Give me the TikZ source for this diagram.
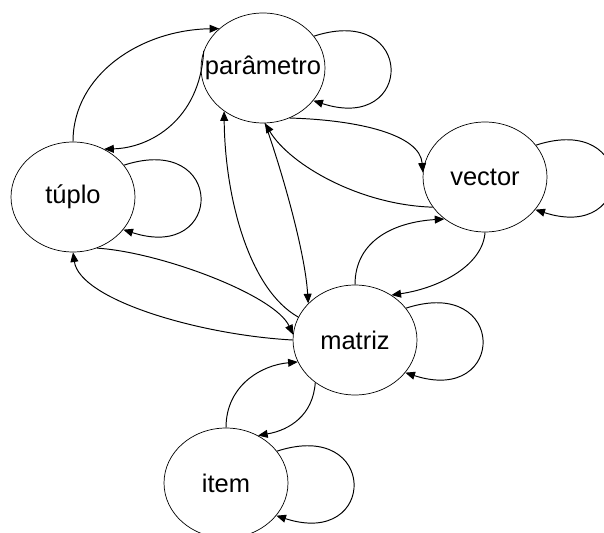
\documentclass[tikz,border=0pt]{standalone}
\usepackage{fontspec}
\setmainfont{Liberation Sans}
\usetikzlibrary{shapes.geometric,arrows.meta}

\begin{document}
\begin{tikzpicture}[x=0.02cm,y=0.02cm]
    \tikzstyle{state} = [ellipse, draw=black, minimum width=2.48cm, minimum height=2.2cm, inner xsep=-12pt, inner ysep=0pt, font=\fontsize{14.5}{17}\selectfont];
    \tikzstyle{link} = [black, line width=0.55pt, -{Triangle[length=5.5pt,width=4.5pt]}];

    \useasboundingbox (0,0) rectangle (604,-533);

    \node[state] (param) at (263,-68) {parâmetro};
    \node[state] (tuplo) at (73,-197) {túplo};
    \node[state] (vector) at (485,-177) {vector};
    \node[state] (matriz) at (355,-340) {matriz};
    \node[state] (item) at (226,-483) {item};

    \foreach \n in {param,tuplo,vector,matriz,item}
        \draw[link] (\n.32) .. controls +(18:107) and +(-18:107) .. (\n.-33);

    \draw[link] (tuplo.north) .. controls (73,-75) and (140,-30) .. (param.138);
    \draw[link] (param.164) .. controls (200,-120) and (150,-148) .. (tuplo.57);
    \draw[link] (param.-62) .. controls (360,-120) and (420,-135) .. (vector.176);
    \draw[link] (vector.210) .. controls (360,-205) and (290,-165) .. (param.-88);
    \draw[link] (matriz.north) .. controls (355,-240) and (395,-222) .. (vector.226);
    \draw[link] (vector.south) .. controls (483,-265) and (440,-288) .. (matriz.51);
    \draw[link] (matriz.227) .. controls (313,-415) and (290,-430) .. (item.56);
    \draw[link] (item.north) .. controls (226,-385) and (262,-365) .. (matriz.201);
    \draw[link] (matriz.west) .. controls (200,-335) and (80,-300) .. (tuplo.south);
    \draw[link] (tuplo.-65) .. controls (160,-252) and (275,-295) .. (matriz.175);
    \draw[link] (matriz.158) .. controls (250,-290) and (225,-200) .. (param.228);
    \draw[link] (param.-88) .. controls (280,-165) and (305,-250) .. (matriz.142);

\end{tikzpicture}
\end{document}
